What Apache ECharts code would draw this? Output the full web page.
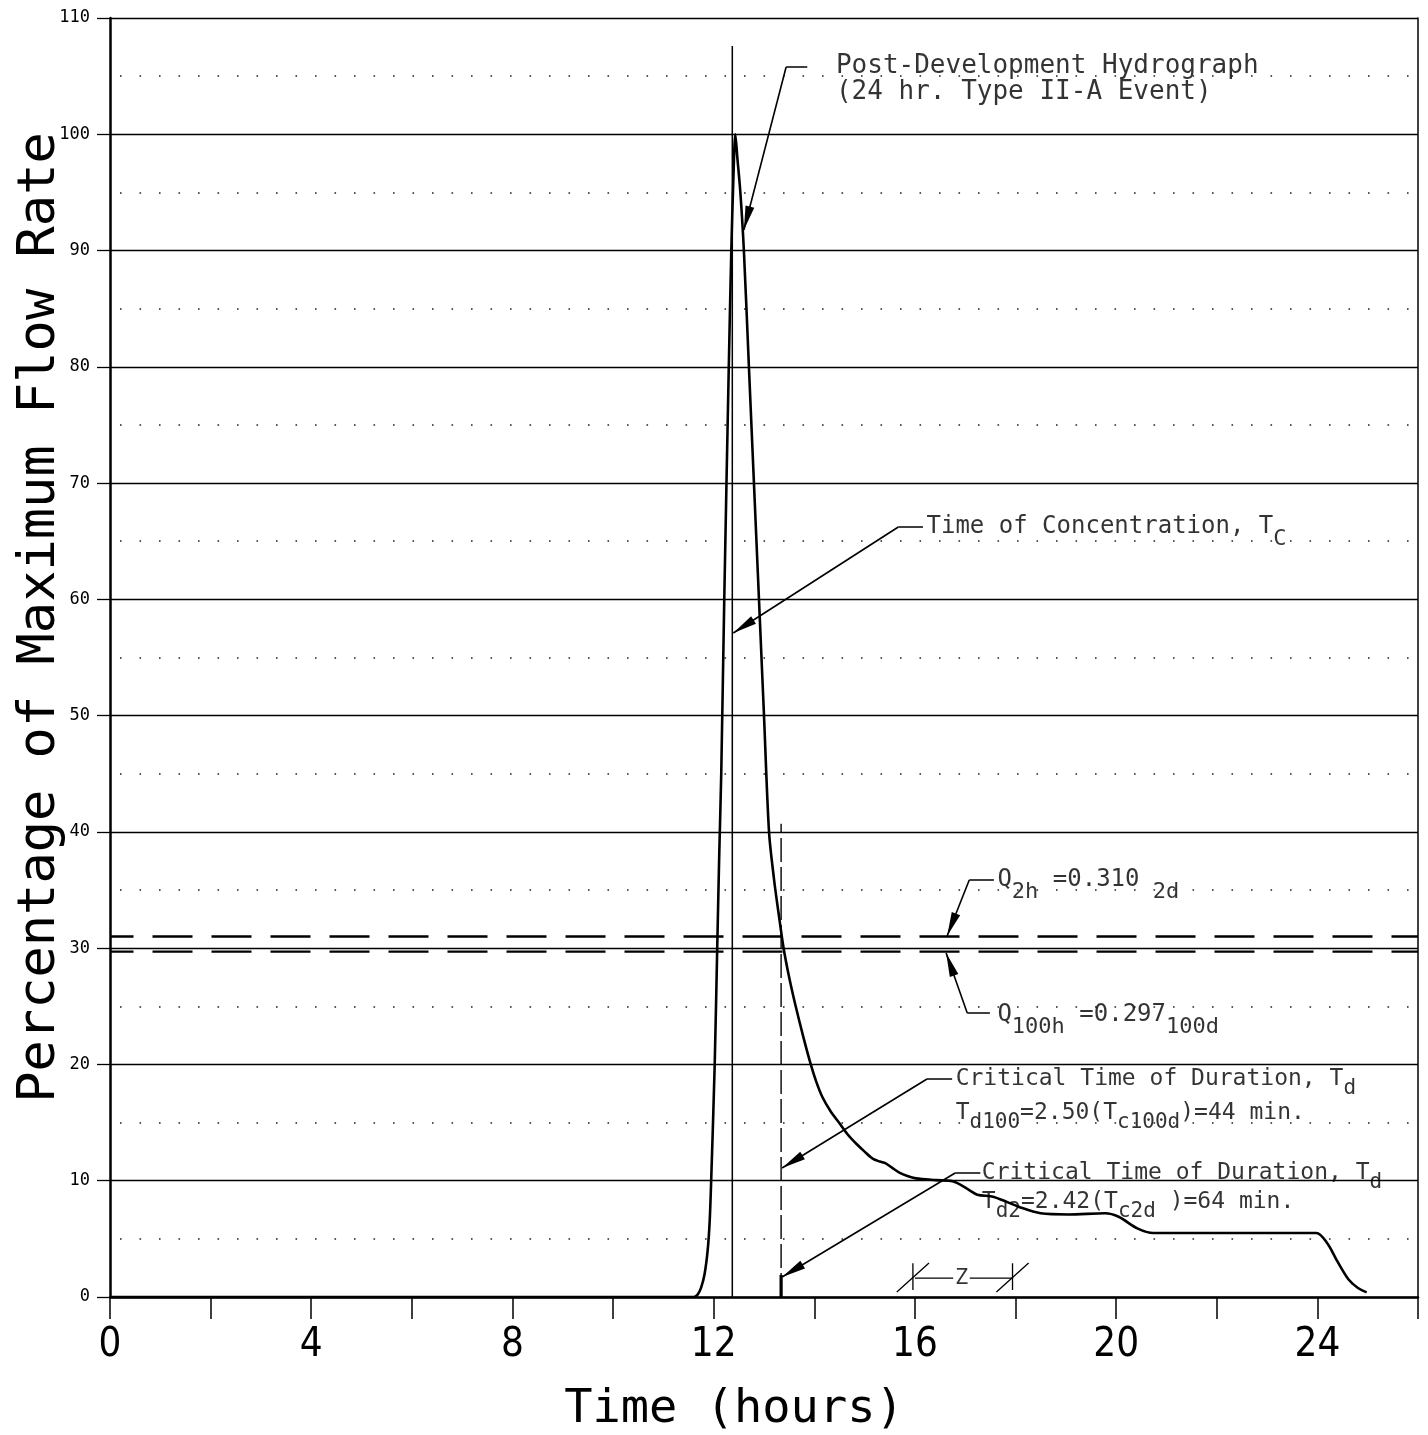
<!DOCTYPE html>
<html>
<head>
<meta charset="utf-8">
<title>Hydrograph</title>
<script src="https://cdn.jsdelivr.net/npm/echarts@6/dist/echarts.min.js"></script>
<style>
  html, body { margin: 0; padding: 0; background: #fff; }
  #chart { width: 1428px; height: 1435px; }
</style>
</head>
<body>
<div id="chart"></div>
<script>
// post-development hydrograph, time (h) vs % of peak flow
const timeHours = [0, 11.6, 11.68, 11.75, 11.82, 11.88, 11.92, 11.95, 12.02, 12.07, 12.11, 12.15, 12.21, 12.3, 12.35,
  12.39, 12.43, 12.47, 12.53, 12.6, 12.7, 12.8, 12.9, 13.0, 13.1, 13.2, 13.29, 13.39, 13.5, 13.63, 13.78,
  13.93, 14.04, 14.16, 14.32, 14.49, 14.66, 14.83, 15.0, 15.16, 15.3, 15.42, 15.55, 15.69, 15.85, 16.02,
  16.42, 16.75, 17.08, 17.24, 17.57, 18.1, 18.5, 19.05, 19.78, 20.05, 20.42, 20.74, 21.5, 23.0, 23.98,
  24.2, 24.38, 24.62, 24.8, 24.98];
const flowPct = [0, 0, 0.2, 0.8, 2, 4, 6.5, 10, 20, 30, 38, 45, 60, 80, 90,
  96, 100, 98, 95, 90, 80, 70, 60, 50, 40, 35.9, 33, 30, 27.5, 25, 22.4,
  20, 18.5, 17.2, 16.0, 15.0, 14.0, 13.2, 12.5, 11.9, 11.65, 11.5, 11.1, 10.7, 10.4, 10.2,
  10.05, 9.95, 9.2, 8.8, 8.6, 7.7, 7.2, 7.1, 7.2, 6.9, 5.9, 5.5, 5.5, 5.5, 5.5,
  4.6, 3.2, 1.5, 0.8, 0.4];

const xTickLabels = [0, 4, 8, 12, 16, 20, 24];

// reference lines
const tcLine = [[12.37, 0], [12.37, 107.6]];
const tdLine = [[13.34, 0], [13.34, 40.7]];
const tdFoot = [[13.34, 0], [13.34, 1.9]];
const q2hLevel = 31.0;
const q100hLevel = 29.7;

// leader polylines, last point is the arrow tip
const postLeader = [[13.86, 105.79], [13.44, 105.79], [12.60, 91.77]];
const tcLeader = [[16.16, 66.22], [15.67, 66.22], [12.39, 57.11]];
const q2hLeader = [[17.57, 35.86], [17.08, 35.86], [16.64, 31.05]];
const q100hLeader = [[17.49, 24.43], [17.04, 24.43], [16.62, 29.59]];
const td100Leader = [[16.74, 18.75], [16.24, 18.75], [13.36, 11.09]];
const td2Leader = [[17.30, 10.66], [16.80, 10.66], [13.36, 1.72]];

// Z dimension
const zLeft = [[16.0, 1.63], [16.76, 1.63]];
const zRight = [[17.09, 1.63], [17.94, 1.63]];
const zTickA = [[15.96, 0.6], [15.96, 2.9]];
const zTickB = [[17.94, 0.6], [17.94, 2.9]];
const zSlashA = [[15.64, 0.43], [16.28, 2.93]];
const zSlashB = [[17.62, 0.43], [18.26, 2.93]];

// notes
const noteAnchors = [[14.42, 104.76], [16.22, 66.22], [17.63, 35.86], [17.63, 24.25], [16.80, 17.29], [17.32, 9.42], [16.93, 1.63]];
const noteTexts = [
  '{p|Post-Development Hydrograph}\n{p|(24 hr. Type II-A Event)}',
  '{m|Time of Concentration, T}{s|C}',
  '{m|Q}{s|2h}{m| =0.310}{s| 2d}',
  '{m|Q}{s|100h}{m| =0.297}{s|100d}',
  '{a|Critical Time of Duration, T}{as|d}\n{a|T}{as|d100}{a|=2.50(T}{as|c100d}{a|)=44 min.}',
  '{b|Critical Time of Duration, T}{bs|d}\n{b|T}{bs|d2}{b|=2.42(T}{bs|c2d}{b| )=64 min.}',
  '{z|Z}'
];

const mono = "'DejaVu Sans Mono', 'Liberation Mono', monospace";
const sans = "'DejaVu Sans', 'Liberation Sans', sans-serif";

const rich = {
  p: { fontFamily: mono, fontSize: 26, lineHeight: 26, color: '#000' },
  m: { fontFamily: mono, fontSize: 24, lineHeight: 34, color: '#000' },
  s: { fontFamily: mono, fontSize: 22, lineHeight: 34, color: '#000', padding: [24, 0, 0, 0] },
  a: { fontFamily: mono, fontSize: 23, lineHeight: 34, color: '#000' },
  as: { fontFamily: mono, fontSize: 21, lineHeight: 34, color: '#000', padding: [20, 0, 0, 0] },
  b: { fontFamily: mono, fontSize: 23, lineHeight: 29, color: '#000' },
  bs: { fontFamily: mono, fontSize: 21, lineHeight: 29, color: '#000', padding: [20, 0, 0, 0] },
  z: { fontFamily: mono, fontSize: 22, color: '#000' }
};

function seg(data, width, type, offset) {
  return {
    type: 'line', data: data, symbol: 'none', silent: true, z: 3,
    lineStyle: { color: '#000', width: width, type: type || 'solid', dashOffset: offset || 0 }
  };
}

const leaders = [postLeader, tcLeader, q2hLeader, q100hLeader, td100Leader, td2Leader];

const chart = echarts.init(document.getElementById('chart'), null, { renderer: 'canvas' });

const series = [
  {
    name: 'hydrograph', type: 'line', symbol: 'none', silent: true, z: 4,
    smooth: 0.3,
    data: timeHours.map((t, i) => [t, flowPct[i]]),
    lineStyle: { color: '#000', width: 2.6 }
  },
  seg(tcLine, 1.5),
  seg(tdLine, 1.4, [24, 5]),
  seg(tdFoot, 3.2),
  seg([[0, q2hLevel], [26, q2hLevel]], 2.4, [40, 19], 16.5),
  seg([[0, q100hLevel], [26, q100hLevel]], 2.4, [40, 19], 16.5),
  seg(zLeft, 1.3), seg(zRight, 1.3), seg(zTickA, 1.3), seg(zTickB, 1.3), seg(zSlashA, 1.3), seg(zSlashB, 1.3)
];

// stubs of the leaders (all but the arrow segment)
leaders.forEach(l => series.push(seg(l.slice(0, l.length - 1), 1.6)));

// arrow segments
series.push({
  type: 'line', data: [], silent: true, z: 5,
  markLine: {
    silent: true, animation: false,
    label: { show: false },
    lineStyle: { color: '#000', width: 1.6, type: 'solid' },
    emphasis: { disabled: true },
    data: leaders.map(l => [
      { coord: l[l.length - 2], symbol: 'none' },
      { coord: l[l.length - 1], symbol: 'triangle', symbolSize: [9, 24], symbolOffset: [0, 12] }
    ])
  }
});

// notes
series.push({
  type: 'scatter', silent: true, z: 6,
  symbolSize: 1,
  itemStyle: { color: 'rgba(0,0,0,0)' },
  data: noteAnchors.map((p, i) => ({
    value: p,
    label: {
      show: true,
      formatter: noteTexts[i],
      position: i === noteTexts.length - 1 ? 'inside' : 'right',
      distance: 0,
      rich: rich
    }
  }))
});

const option = {
  animation: false,
  backgroundColor: '#fff',
  grid: { left: 110, right: 10, top: 18, bottom: 138, containLabel: false, outerBoundsMode: 'none' },
  xAxis: {
    type: 'value', min: 0, max: 26, interval: 2,
    axisLine: { lineStyle: { color: '#000', width: 2.5 } },
    axisTick: { length: 22, lineStyle: { color: '#000', width: 1.5 } },
    axisLabel: {
      formatter: v => (xTickLabels.indexOf(v) >= 0 ? String(v) : ''),
      fontFamily: sans, fontStyle: 'condensed', fontSize: 40, color: '#000', margin: 29
    },
    splitLine: { show: false },
    name: 'Time (hours)', nameLocation: 'middle', nameGap: 89, nameMoveOverlap: false,
    nameTextStyle: { fontFamily: mono, fontSize: 47, color: '#000', padding: [0, 60, 0, 0] }
  },
  yAxis: [
    {
      type: 'value', min: 0, max: 110, interval: 10,
      axisLine: { show: true, lineStyle: { color: '#000', width: 2.5 } },
      axisTick: { show: true, length: 13, lineStyle: { color: '#000', width: 1.3 } },
      axisLabel: { fontFamily: mono, fontSize: 17, color: '#000', margin: 20 },
      splitLine: { show: true, lineStyle: { color: '#000', width: 1.3 } },
      minorTick: { show: false, splitNumber: 2 },
      minorSplitLine: { show: true, lineStyle: { color: '#222', width: 1.6, type: [1.6, 17.9], dashOffset: 9.5 } },
      name: 'Percentage of Maximum Flow Rate', nameLocation: 'middle', nameRotate: 90, nameGap: 44,
      nameMoveOverlap: false,
      nameTextStyle: { fontFamily: mono, fontSize: 52, color: '#000', padding: [0, 0, 0, 80] }
    },
    {
      type: 'value', min: 0, max: 110, position: 'right',
      axisLine: { show: true, lineStyle: { color: '#000', width: 1.5 } },
      axisTick: { show: false }, axisLabel: { show: false }, splitLine: { show: false }
    }
  ],
  series: series
};

chart.setOption(option);
</script>
</body>
</html>
